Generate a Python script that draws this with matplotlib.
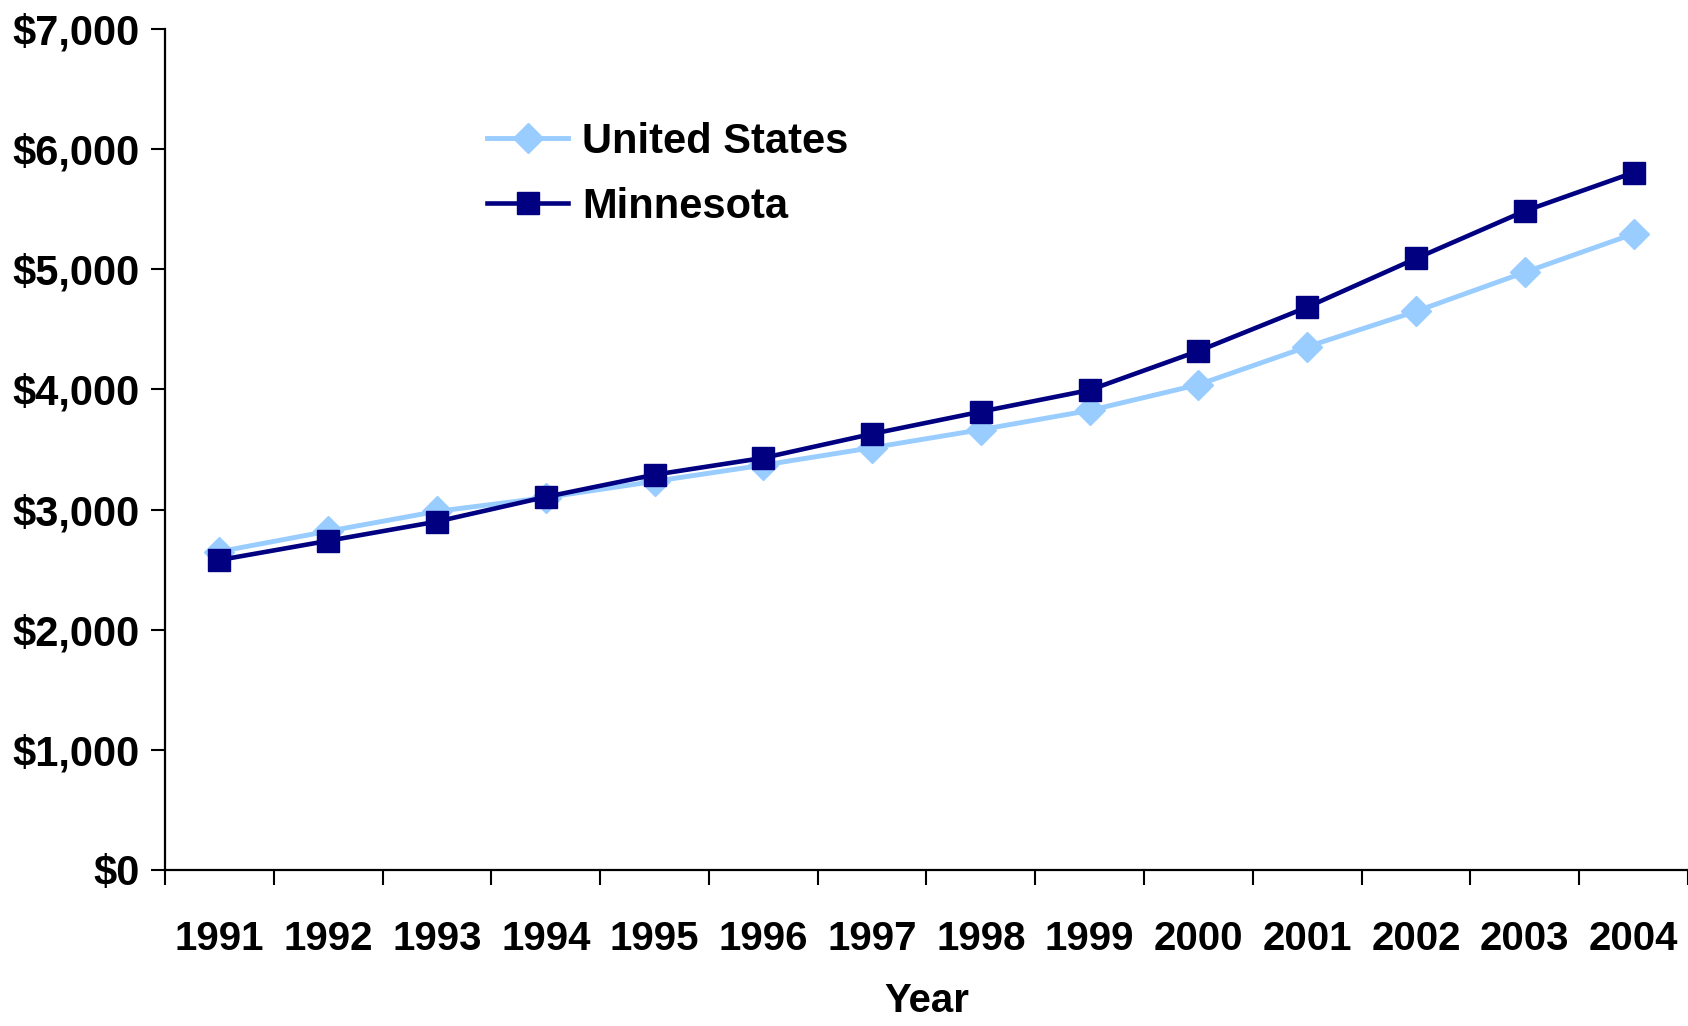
import matplotlib
matplotlib.use("Agg")
import matplotlib.pyplot as plt

years = ["1991", "1992", "1993", "1994", "1995", "1996", "1997",
         "1998", "1999", "2000", "2001", "2002", "2003", "2004"]
united_states = [2650, 2820, 2985, 3100, 3235, 3370, 3515,
                 3665, 3825, 4040, 4355, 4650, 4975, 5295]
minnesota = [2580, 2740, 2900, 3105, 3290, 3430, 3630,
             3815, 3995, 4320, 4685, 5090, 5485, 5805]
y_ticks = [0, 1000, 2000, 3000, 4000, 5000, 6000, 7000]
y_labels = ["$0", "$1,000", "$2,000", "$3,000", "$4,000", "$5,000", "$6,000", "$7,000"]

plt.rcParams["font.family"] = ["Liberation Sans", "DejaVu Sans"]
plt.rcParams["font.weight"] = "bold"

light = "#99CCFF"
navy = "#000080"

fig = plt.figure(figsize=(16.88, 10.26), dpi=100)
ax = fig.add_axes([165/1688, 1 - 870/1026, 1523/1688, 841/1026])

x = list(range(len(years)))
ax.plot(x, united_states, color=light, lw=3.5, marker="D", ms=15.5,
        markeredgecolor=light, label="United States", clip_on=False)
ax.plot(x, minnesota, color=navy, lw=3.3, marker="s", ms=15.5,
        markeredgecolor=navy, label="Minnesota", clip_on=False)

ax.set_xlim(-0.5, len(years) - 0.5)
ax.set_ylim(0, 7000)
for side in ["top", "right"]:
    ax.spines[side].set_visible(False)
for side in ["left", "bottom"]:
    ax.spines[side].set_linewidth(1.6)

ax.set_yticks(y_ticks, y_labels)
ax.tick_params(axis="y", direction="out", length=10, width=1.5, pad=8, labelsize=30)

# major ticks between categories, labels on minor ticks at centers
ax.set_xticks([i - 0.5 for i in range(len(years) + 1)])
ax.set_xticklabels([])
ax.tick_params(axis="x", which="major", direction="out", length=11, width=1.5)
ax.set_xticks(x, years, minor=True)
ax.tick_params(axis="x", which="minor", length=0, pad=36, labelsize=29)

ax.set_xlabel("Year", fontsize=29, fontweight="bold", va="center")
ax.xaxis.set_label_coords(0.5, (870 - 1001) / 841)

ax.legend(loc="upper left", bbox_to_anchor=(487/1688, 1 - 122/1026),
          bbox_transform=fig.transFigure, frameon=False, fontsize=30,
          handlelength=1.95, handletextpad=0.33, labelspacing=0.6,
          borderpad=0, borderaxespad=0)

fig.savefig("out.png", dpi=100)
